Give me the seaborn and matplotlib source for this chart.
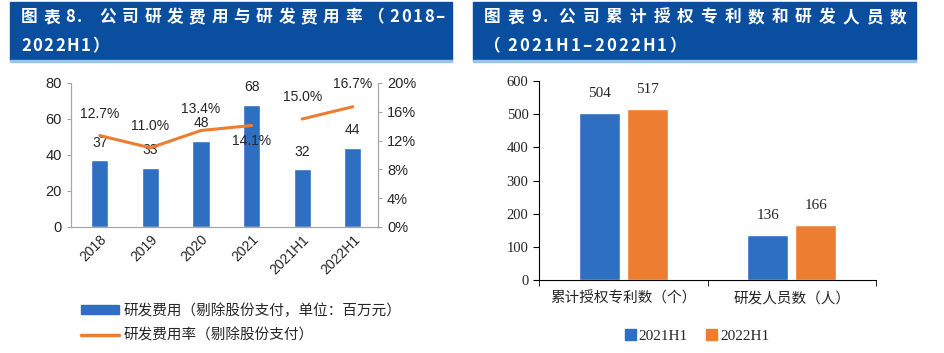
import numpy as np
import pandas as pd
import matplotlib
matplotlib.use("Agg")
import matplotlib.pyplot as plt
import matplotlib.patches as mpatches
from matplotlib.lines import Line2D
from matplotlib.ticker import FuncFormatter
import seaborn as sns

sns.set_style("ticks")
plt.rcParams["font.family"] = ["Liberation Sans", "Noto Sans CJK SC", "DejaVu Sans"]

# ---- data ----
years = ["2018", "2019", "2020", "2021", "2021H1", "2022H1"]
rd_expense = [37, 33, 48, 68, 32, 44]
rd_rate = [12.7, 11.0, 13.4, 14.1, 15.0, 16.7]
rate_segment = ["FY", "FY", "FY", "FY", "H1", "H1"]
rate_label_off = [15.5, 15.5, 15.5, -11.5, 15.5, 16.5]

categories = ["累计授权专利数（个）", "研发人员数（人）"]
periods = ["2021H1", "2022H1"]
vals_2021h1 = [504, 136]
vals_2022h1 = [517, 166]

BLUE = "#2F6FC1"
ORANGE = "#ED7D31"
NAVY = "#0A4E9F"
CJK = ["Noto Sans CJK SC", "DejaVu Sans"]
SERIF = ["Liberation Serif", "Noto Sans CJK SC"]

W, H = 944, 353
fig = plt.figure(figsize=(W / 100, H / 100), dpi=100)
rend = fig.canvas.get_renderer()


def px_axes(x0, y0, x1, y1):
    return fig.add_axes([x0 / W, 1 - y1 / H, (x1 - x0) / W, (y1 - y0) / H])


def spaced_text(x, y, s, cjk_extra, asc_extra, size=12):
    # title text in the reference has wide letter spacing
    cx = x
    for ch in s:
        if ch == " ":
            cx += 8
            continue
        t = fig.text(cx / W, 1 - y / H, ch, color="white", fontsize=size, fontweight="bold",
                     family=CJK, va="center", ha="left")
        cx += t.get_window_extent(rend).width + (cjk_extra if ord(ch) > 0x2E80 else asc_extra)


# ---- title bands ----
for (x0, x1, l1, l2, ex, ea) in [(10, 452, "图表8.  公司研发费用与研发费用率（2018–", "2022H1）", 5.7, 1.5),
                                 (473, 916, "图表9. 公司累计授权专利数和研发人员数", "（2021H1–2022H1）", 7.0, 2.2)]:
    fig.patches.append(mpatches.Rectangle((x0 / W, 1 - 60 / H), (x1 - x0) / W, 58 / H,
                                          transform=fig.transFigure, color=NAVY, zorder=0))
    fig.patches.append(mpatches.Rectangle((x0 / W, 1 - 62 / H), (x1 - x0) / W, 1.6 / H,
                                          transform=fig.transFigure, color="#9DC3E6", zorder=0))
    spaced_text(x0 + 11, 17, l1, ex, ea)
    spaced_text(x0 + 11, 46, l2, ex, ea)

# ---- left chart ----
df1 = pd.DataFrame({"year": years, "exp": rd_expense, "rate": rd_rate,
                    "seg": rate_segment, "pos": np.arange(len(years))})
ax = px_axes(71, 83, 378, 227)
sns.barplot(data=df1, x="year", y="exp", color=BLUE, width=0.34, saturation=1, ax=ax)
ax.set_ylim(0, 80)
ax.set_yticks([0, 20, 40, 60, 80])
ax.set_xlim(-0.57, 5.5)
ax.set_xlabel("")
ax.set_ylabel("")
for i, v in enumerate(rd_expense):
    ax.annotate(str(v), (i, v), xytext=(0, 12.7), textcoords="offset points",
                ha="center", va="center", fontsize=10)
ax2 = ax.twinx()
sns.lineplot(data=df1, x="pos", y="rate", units="seg", estimator=None, color=ORANGE,
             lw=2.2, ax=ax2)
ax2.set_ylim(0, 20)
ax2.set_yticks([0, 4, 8, 12, 16, 20])
ax2.yaxis.set_major_formatter(FuncFormatter(lambda v, p: f"{v:.0f}%"))
ax2.set_ylabel("")
for i, v in enumerate(rd_rate):
    ax2.annotate(f"{v:.1f}%", (i, v), xytext=(0, rate_label_off[i]), textcoords="offset points",
                 ha="center", va="center", fontsize=10)
for a in (ax, ax2):
    a.spines["top"].set_visible(False)
    for s in ("left", "right", "bottom"):
        a.spines[s].set_color("#A6A6A6")
    a.tick_params(axis="y", labelsize=10.5, length=3, color="#A6A6A6")
ax.tick_params(axis="x", length=0, labelsize=10, pad=4)
plt.setp(ax.get_xticklabels(), rotation=45, ha="right", rotation_mode="anchor")

h1 = mpatches.Patch(color=BLUE)
h2 = Line2D([], [], color=ORANGE, lw=2.5)
fig.legend([h1, h2], ["研发费用（剔除股份支付，单位：百万元）", "研发费用率（剔除股份支付）"],
           loc="center left", bbox_to_anchor=(68 / W, 1 - 323 / H), frameon=False,
           prop={"family": CJK, "size": 10.5}, handlelength=2.6, handleheight=0.6,
           labelspacing=0.75, handletextpad=0.3)

# ---- right chart ----
df2 = pd.DataFrame({"cat": categories * 2,
                    "period": [periods[0]] * 2 + [periods[1]] * 2,
                    "val": vals_2021h1 + vals_2022h1})
bx = px_axes(539, 81, 876, 280)
sns.barplot(data=df2, x="cat", y="val", hue="period", palette=[BLUE, ORANGE],
            width=0.57, gap=0.15, saturation=1, ax=bx)
bx.set_ylim(0, 600)
bx.set_yticks(range(0, 601, 100))
bx.set_xlim(-0.5, 1.5)
bx.set_xlabel("")
bx.set_ylabel("")
for c in bx.containers:
    for r in c:
        bx.annotate(f"{r.get_height():.0f}", (r.get_x() + r.get_width() / 2, r.get_height()),
                    xytext=(0, 13.7), textcoords="offset points", ha="center", va="center",
                    fontsize=11, family=SERIF)
bx.spines["top"].set_visible(False)
bx.spines["right"].set_visible(False)
for s in ("left", "bottom"):
    bx.spines[s].set_color("black")
bx.tick_params(axis="y", labelsize=10.5, length=4, color="black")
for t in bx.get_yticklabels():
    t.set_family(SERIF)
bx.set_xticks([-0.5, 0.5, 1.5], minor=True)
bx.tick_params(axis="x", which="major", length=0, pad=8)
bx.tick_params(axis="x", which="minor", length=4, color="black")
for t in bx.get_xticklabels():
    t.set_family(CJK)
    t.set_fontsize(10.5)
bx.get_legend().remove()
hh = [mpatches.Patch(color=BLUE), mpatches.Patch(color=ORANGE)]
fig.legend(hh, periods, loc="center", bbox_to_anchor=(697 / W, 1 - 336 / H), ncol=2,
           frameon=False, prop={"family": SERIF, "size": 11}, handlelength=0.7,
           handleheight=0.7, handletextpad=0.2, columnspacing=1.2)

fig.savefig("out.png", dpi=100)
